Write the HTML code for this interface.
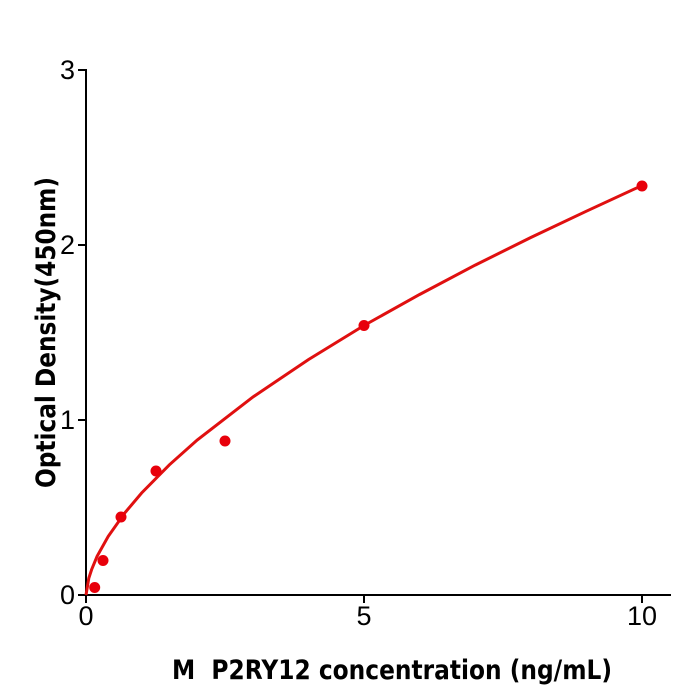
<!DOCTYPE html>
<html><head><meta charset="utf-8"><style>
body{margin:0;background:#fff;}
svg{display:block;font-family:"DejaVu Sans","Liberation Sans",sans-serif;}
</style></head><body>
<svg width="700" height="700" viewBox="0 0 700 700" xmlns="http://www.w3.org/2000/svg">
<rect width="700" height="700" fill="#fff"/>
<g stroke="#000" stroke-width="2" fill="none">
<line x1="86" y1="69" x2="86" y2="596"/>
<line x1="85" y1="595" x2="671" y2="595"/>
<line x1="78" y1="70" x2="86" y2="70"/>
<line x1="78" y1="245" x2="86" y2="245"/>
<line x1="78" y1="420" x2="86" y2="420"/>
<line x1="78" y1="595" x2="86" y2="595"/>
<line x1="86" y1="595" x2="86" y2="603"/>
<line x1="364" y1="595" x2="364" y2="603"/>
<line x1="642" y1="595" x2="642" y2="603"/>
</g>
<g font-size="27" text-anchor="end" fill="#000" font-family="Liberation Sans, sans-serif">
<text x="75" y="79">3</text>
<text x="75" y="254">2</text>
<text x="75" y="429">1</text>
<text x="75" y="604">0</text>
</g>
<g font-size="27" text-anchor="middle" fill="#000" font-family="Liberation Sans, sans-serif">
<text x="86" y="625">0</text>
<text x="364" y="625">5</text>
<text x="642" y="625">10</text>
</g>
<text x="172" y="679" font-size="27" font-weight="bold" textLength="440" lengthAdjust="spacingAndGlyphs">M &#160;P2RY12 concentration (ng/mL)</text>
<text transform="translate(55,488) rotate(-90)" font-size="27" font-weight="bold" textLength="311" lengthAdjust="spacingAndGlyphs">Optical Density(450nm)</text>
<polyline fill="none" stroke="#e01010" stroke-width="3" points="86,595 88.8,578.2 91.6,569.6 97.1,556.3 108.2,536.4 124.9,512.8 141.6,493 169.4,464.8 197.2,440 252.8,397.1 308.4,359.6 364,325.5 419.6,294.5 475.2,265.1 530.8,237.5 586.4,211.2 642,185.5"/>
<g fill="#e8000b">
<circle cx="94.7" cy="587.5" r="5.5"/>
<circle cx="103" cy="560.5" r="5.5"/>
<circle cx="121" cy="517" r="5.5"/>
<circle cx="156" cy="471" r="5.5"/>
<circle cx="225" cy="441" r="5.5"/>
<circle cx="364" cy="325.5" r="5.5"/>
<circle cx="642" cy="186" r="5.5"/>
</g>
</svg>
</body></html>
